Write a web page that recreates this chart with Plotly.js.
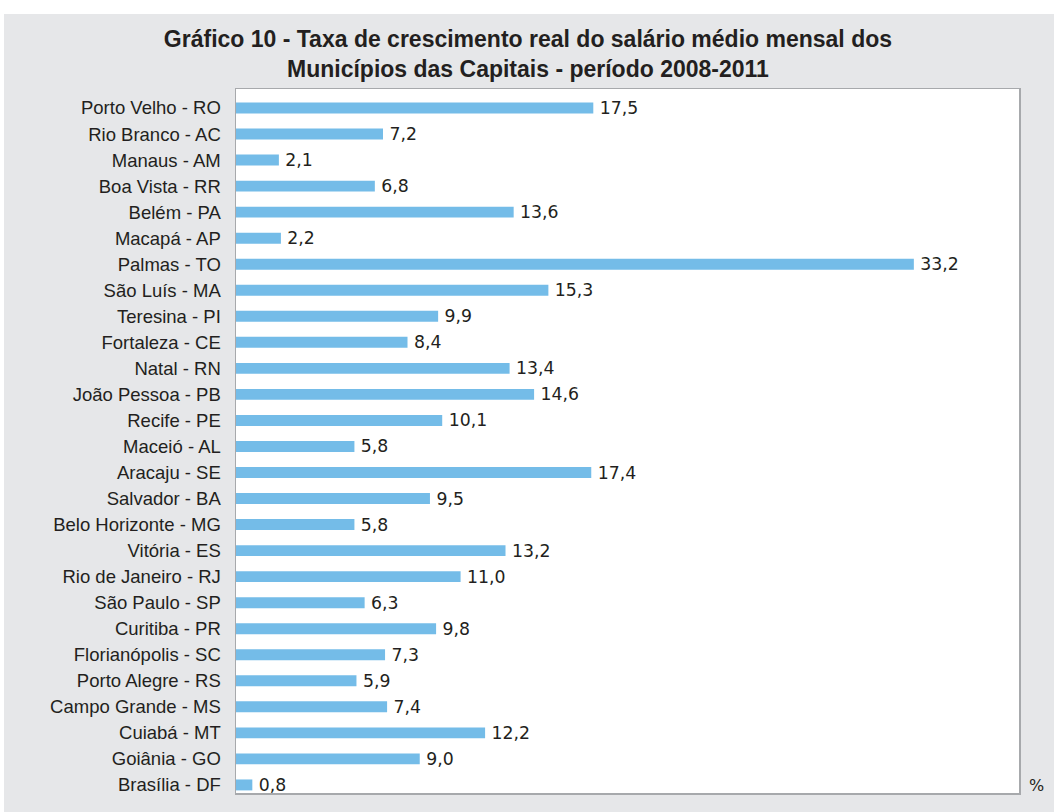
<!DOCTYPE html>
<html>
<head>
<meta charset="utf-8">
<script src="https://cdn.plot.ly/plotly-3.0.1.min.js"></script>
<style>
  html, body { margin: 0; padding: 0; background: #ffffff; }
  #chart { position: absolute; left: 4px; top: 14px; width: 1050px; height: 798px; }
</style>
</head>
<body>
<div id="chart"></div>
<script>
const municipios = [
  "Porto Velho - RO", "Rio Branco - AC", "Manaus - AM", "Boa Vista - RR", "Belém - PA",
  "Macapá - AP", "Palmas - TO", "São Luís - MA", "Teresina - PI", "Fortaleza - CE",
  "Natal - RN", "João Pessoa - PB", "Recife - PE", "Maceió - AL", "Aracaju - SE",
  "Salvador - BA", "Belo Horizonte - MG", "Vitória - ES", "Rio de Janeiro - RJ", "São Paulo - SP",
  "Curitiba - PR", "Florianópolis - SC", "Porto Alegre - RS", "Campo Grande - MS", "Cuiabá - MT",
  "Goiânia - GO", "Brasília - DF"
];
const taxas = [
  17.5, 7.2, 2.1, 6.8, 13.6,
  2.2, 33.2, 15.3, 9.9, 8.4,
  13.4, 14.6, 10.1, 5.8, 17.4,
  9.5, 5.8, 13.2, 11.0, 6.3,
  9.8, 7.3, 5.9, 7.4, 12.2,
  9.0, 0.8
];
const titulo = "Gráfico 10 - Taxa de crescimento real do salário médio mensal dos<br>Municípios das Capitais - período 2008-2011";
const unidade = "%";

const trace = {
  type: "bar",
  orientation: "h",
  y: municipios,
  x: taxas,
  width: 0.42,
  marker: { color: "#74BCE8", line: { width: 0 } },
  texttemplate: "\u2009%{x:.1f}",
  textposition: "outside",
  constraintext: "none",
  cliponaxis: false,
  textfont: { family: "DejaVu Sans, sans-serif", size: 17.3, color: "#231F20" },
  hoverinfo: "skip"
};

const layout = {
  width: 1050,
  height: 798,
  paper_bgcolor: "#E6E7E9",
  plot_bgcolor: "#FFFFFF",
  separators: ", ",
  showlegend: false,
  margin: { l: 232, r: 35, t: 75, b: 19, pad: 0 },
  title: {
    text: titulo,
    x: 0.499,
    xanchor: "center",
    xref: "container",
    y: 0.959,
    yanchor: "top",
    yref: "container",
    font: { family: "Liberation Sans, Arial, sans-serif", size: 23, color: "#231F20", weight: "bold" }
  },
  xaxis: {
    range: [0, 38.35],
    showticklabels: false,
    showgrid: false,
    zeroline: false,
    ticks: "",
    showline: true,
    mirror: true,
    linecolor: "#A7A9AC",
    linewidth: 1.5
  },
  yaxis: {
    type: "category",
    range: [26.31, -0.73],
    showgrid: false,
    zeroline: false,
    ticks: "",
    ticklabelstandoff: 10,
    showline: true,
    mirror: true,
    linecolor: "#A7A9AC",
    linewidth: 1.5,
    tickfont: { family: "Liberation Sans, Arial, sans-serif", size: 18.5, color: "#231F20" }
  },
  annotations: [{
    text: unidade,
    xref: "paper", yref: "paper",
    x: 1, y: 0,
    xanchor: "left", yanchor: "bottom",
    xshift: 8, yshift: -4,
    showarrow: false,
    font: { family: "DejaVu Sans, sans-serif", size: 16, color: "#231F20" }
  }]
};

Plotly.newPlot("chart", [trace], layout, { displayModeBar: false, staticPlot: true });
</script>
</body>
</html>
